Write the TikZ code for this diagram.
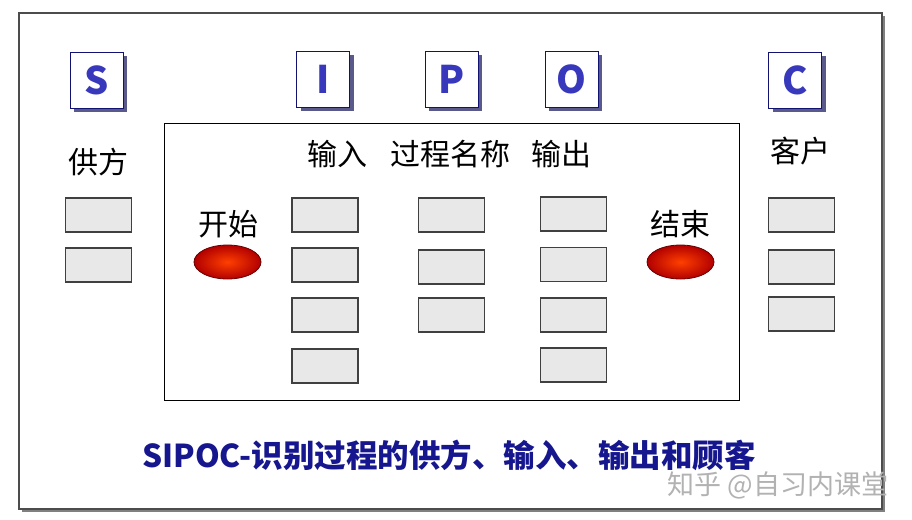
\documentclass[tikz,border=0pt]{standalone}
\usepackage{fontspec}
\setmainfont{Noto Sans CJK SC}
\usetikzlibrary{shadows,shapes.geometric}
\definecolor{letterblue}{HTML}{3838BC}
\definecolor{titleblue}{HTML}{16168E}
\definecolor{cellgray}{HTML}{E8E8E8}

\begin{document}
\begin{tikzpicture}[x=1pt,y=-1pt]
\tikzset{letter/.style={draw=titleblue!80!black, fill=white, line width=0.9pt, minimum width=53pt, minimum height=56pt, inner sep=0pt,
    text=letterblue, font=\bfseries\fontsize{38}{38}\selectfont,
    drop shadow={shadow xshift=4pt, shadow yshift=-4pt, fill=black!35!blue!30!gray, opacity=1}}}
\tikzset{head/.style={font=\fontsize{30}{32}\selectfont, inner sep=0pt}}
\tikzset{cell/.style={draw=black!75, fill=cellgray, line width=1.1pt, minimum width=66pt, minimum height=34pt, inner sep=0pt}}
\tikzset{endpoint/.style={ellipse, draw=red!40!black, line width=0.8pt, minimum width=67pt, minimum height=34pt, inner sep=0pt,
    inner color=red!50!orange, outer color=red!70!black}}
\useasboundingbox (0,0) rectangle (912,519);
% frames
\draw[draw=black!70, line width=1.2pt, fill=white, drop shadow={shadow xshift=3pt, shadow yshift=-3pt, fill=black!50, opacity=1}] (19,13) rectangle (882,509);
\draw[line width=1pt] (164,123) rectangle (739,400);
% S I P O C
\node[letter] (S) at (96.5,80) {S};
\node[letter] (I) at (323,79) {I};
\node[letter] (P) at (451.5,79) {P};
\node[letter] (O) at (571.5,79) {O};
\node[letter] (C) at (795,80) {C};
% column heads
\node[head] (supplier) at (98,162) {供方};
\node[head] (input) at (337.5,154) {输入};
\node[head] (process) at (450,154) {过程名称};
\node[head] (output) at (561.5,154) {输出};
\node[head] (customer) at (800,151) {客户};
\node[head] (starttext) at (228.5,224) {开始};
\node[head] (endtext) at (680.5,224) {结束};
% cells
\foreach \y [count=\i] in {215,265} \node[cell] (s\i) at (98.5,\y) {};
\foreach \y [count=\i] in {215,265,315,366} \node[cell] (i\i) at (325,\y) {};
\foreach \y [count=\i] in {215,267,315} \node[cell] (p\i) at (451.5,\y) {};
\foreach \y [count=\i] in {214,264.5,315,365} \node[cell] (o\i) at (573.5,\y) {};
\foreach \y [count=\i] in {215,267,314} \node[cell] (c\i) at (801.5,\y) {};
\node[endpoint] (start) at (227.5,262) {};
\node[endpoint] (end) at (680.5,262) {};
% caption
\node[text=titleblue, font=\bfseries\fontsize{31.5}{32}\selectfont, inner sep=0pt] (title) at (449,455) {SIPOC-识别过程的供方、输入、输出和顾客};
\node[text=black!30, font=\fontsize{27}{27}\selectfont, inner sep=0pt] (mark) at (778,485) {知乎 @自习内课堂};
\end{tikzpicture}
\end{document}
